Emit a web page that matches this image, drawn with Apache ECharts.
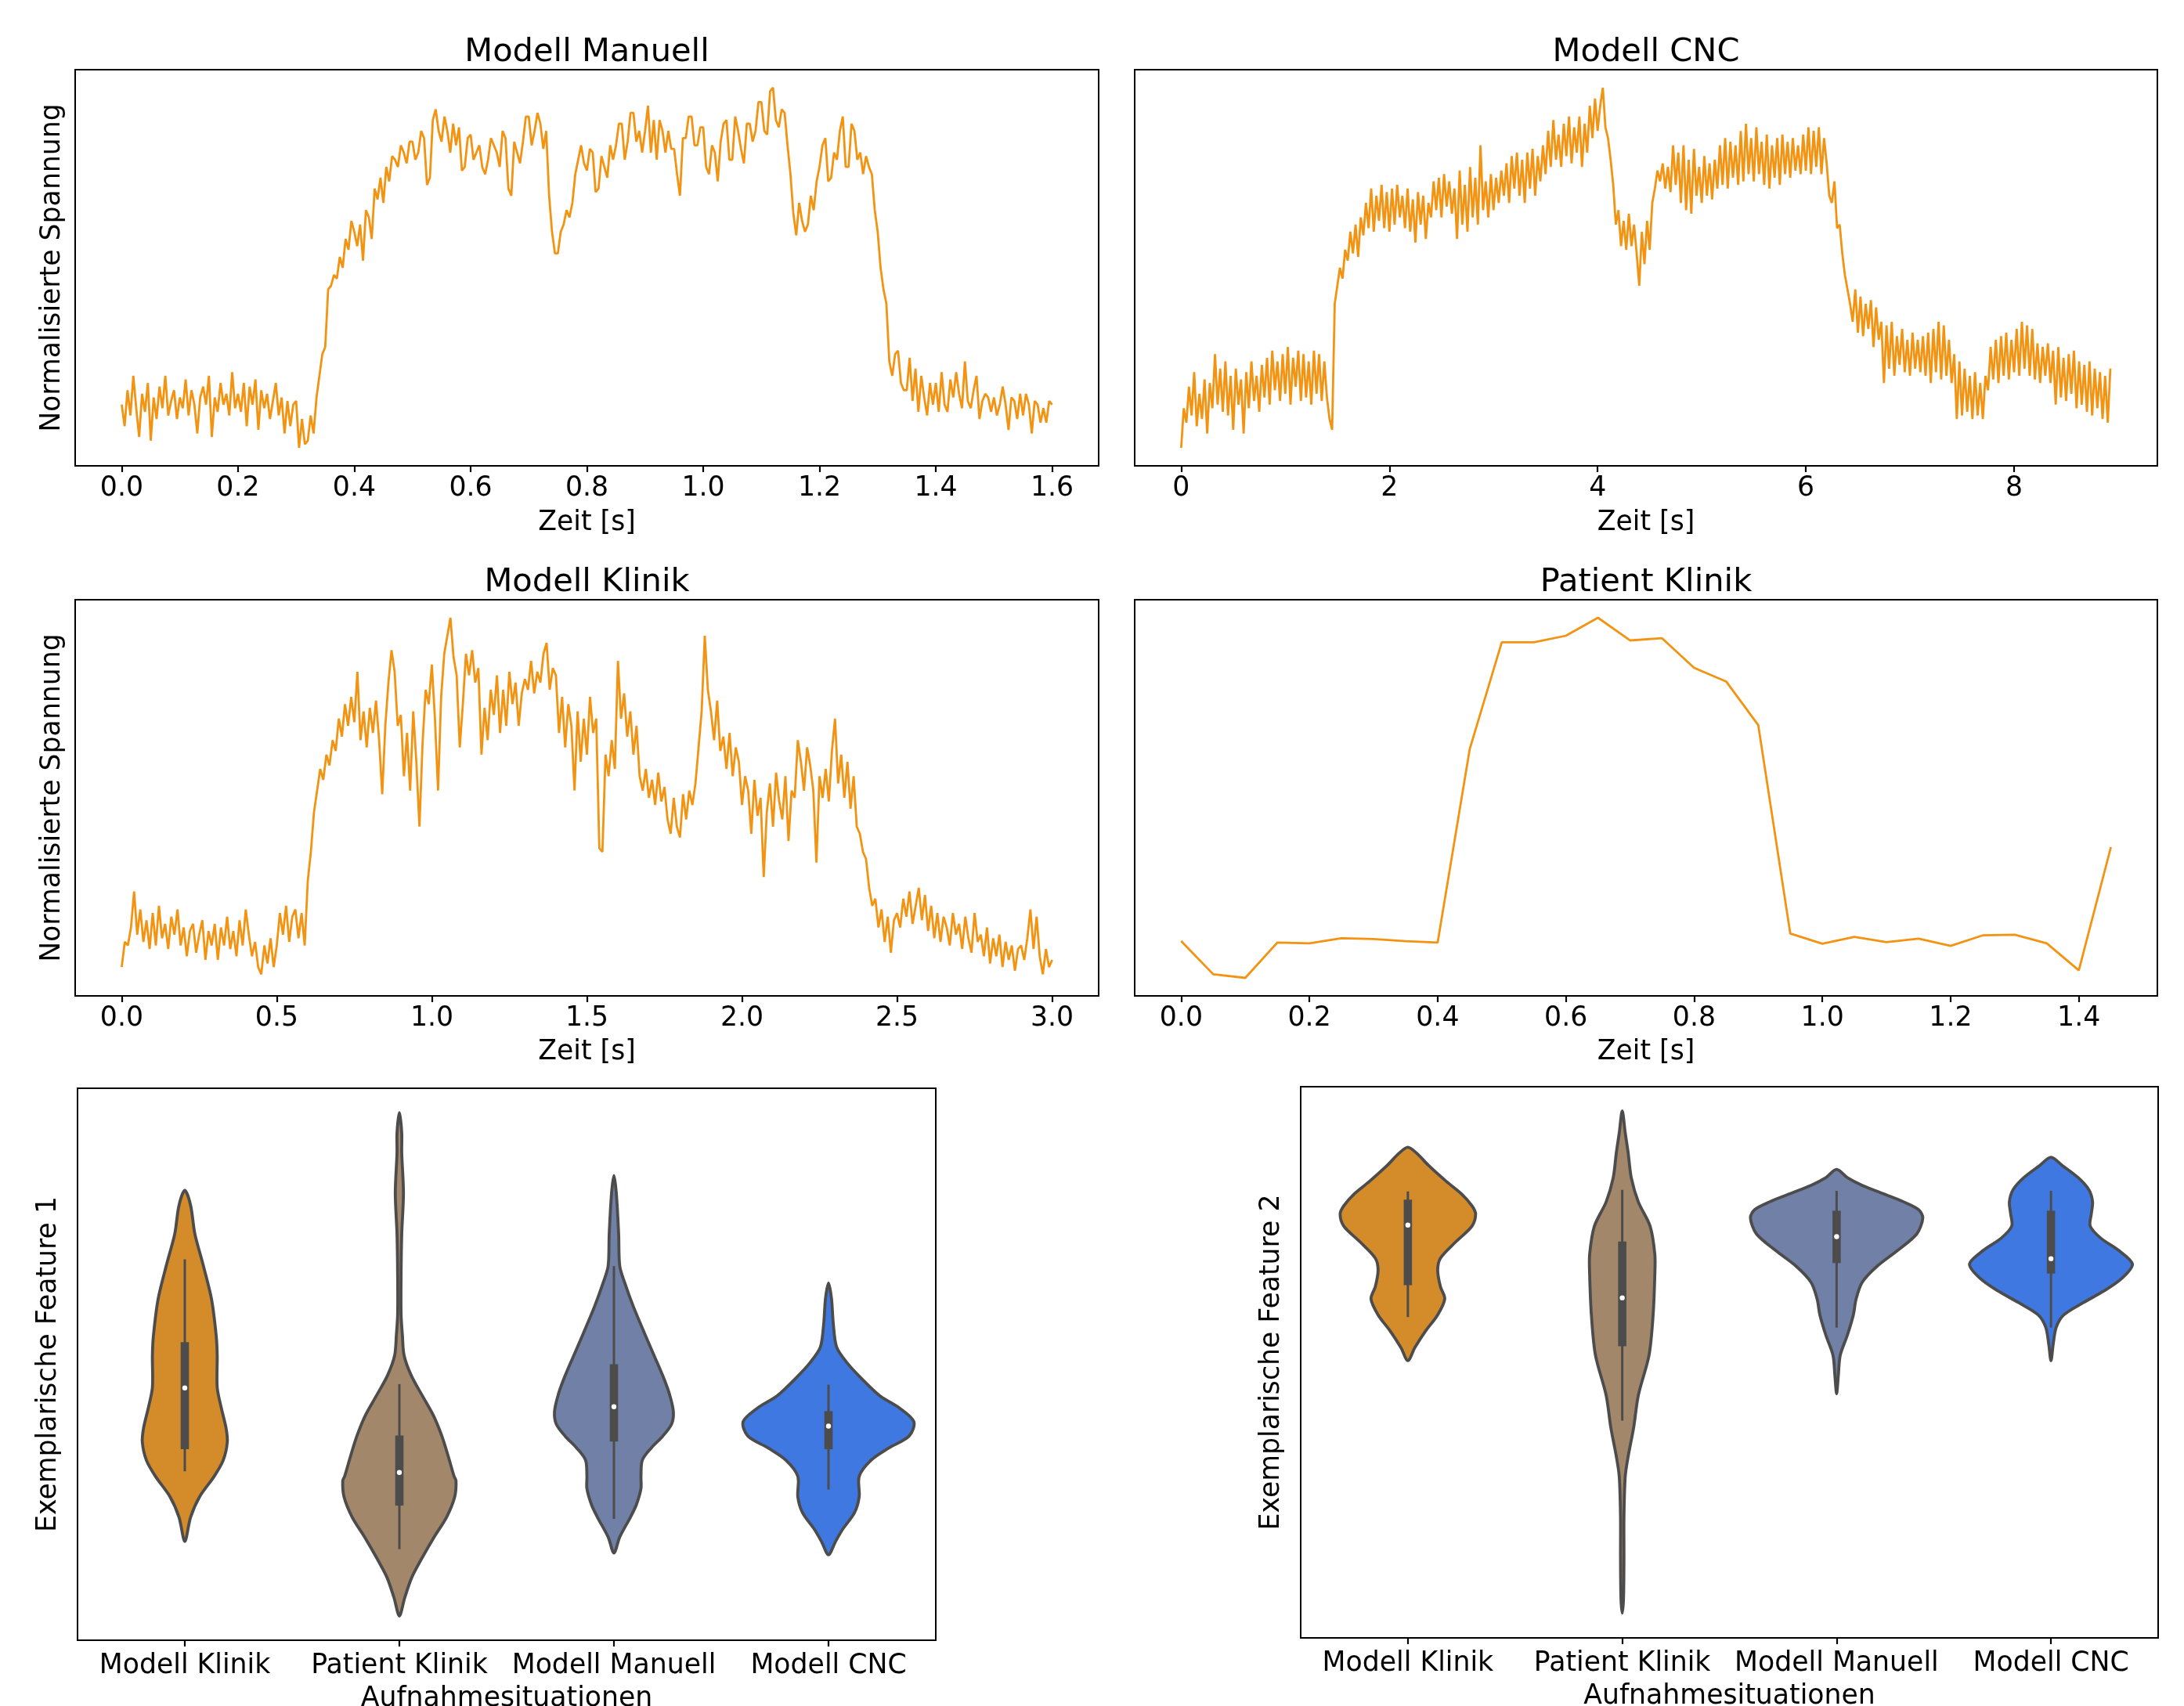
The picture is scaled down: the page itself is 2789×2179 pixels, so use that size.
<!DOCTYPE html>
<html><head><meta charset="utf-8">
<script src="https://cdn.jsdelivr.net/npm/echarts@6/dist/echarts.min.js"></script>
<style>html,body{margin:0;padding:0;background:#fff}#c{width:2789px;height:2179px}</style>
</head><body><div id="c"></div><script>
// ---------- DATA ----------
// Sampled traces (normalised voltage, 0..100), uniform sampling interval in seconds
const manuellDt = 0.005;
const manuellValues = [
12,6,16,9,20,11,3,15,10,18,
2,14,8,17,11,20,9,13,16,8,
14,11,19,9,16,12,4,14,17,12,
20,3,14,10,18,12,15,9,21,11,
15,10,18,6,17,12,19,5,16,11,
15,8,13,18,9,14,4,13,6,12,
13,0,8,1,2,9,4,14,20,26,
28,44,45,48,47,53,50,58,55,63,
60,56,62,52,66,64,58,72,69,75,
68,78,74,81,80,78,84,82,79,85,
85,80,82,88,86,73,75,91,94,88,
85,92,88,82,90,84,89,77,78,86,
87,80,82,84,78,76,80,86,84,82,
78,88,86,72,70,85,82,79,85,92,
92,84,88,93,90,83,88,70,60,54,
54,60,62,66,64,68,76,80,84,79,
77,83,82,71,72,81,78,75,84,80,
84,90,90,80,85,93,93,85,88,82,
88,95,82,91,80,91,88,82,88,83,
83,76,70,86,86,92,92,84,84,89,
89,78,76,84,82,74,85,90,91,80,
80,92,88,83,79,90,90,85,88,96,
96,88,87,99,100,91,89,94,93,84,
76,65,59,68,63,60,62,70,66,74,
78,84,86,74,75,82,80,88,92,78,
78,90,88,80,82,76,81,78,76,66,
60,50,44,40,24,20,26,27,18,16,
16,25,13,22,10,20,14,9,18,12,
18,10,21,12,10,19,14,21,15,11,
24,13,11,16,20,8,13,15,14,10,
14,9,12,17,12,5,14,13,8,15,
9,15,12,4,13,12,7,11,7,13,
12];
const manuellTicks = [0,0.2,0.4,0.6,0.8,1.0,1.2,1.4,1.6];

const cncDt = 0.025;
const cncValues = [
0,11,7,17,9,21,6,15,8,19,
4,18,11,26,12,22,10,24,9,20,
5,22,12,19,4,21,11,24,13,20,
10,23,14,25,12,27,16,24,13,26,
15,28,12,25,17,27,13,26,14,24,
12,27,15,26,13,24,14,8,5,40,
45,50,47,55,52,60,54,62,53,64,
59,68,61,72,60,70,63,73,61,71,
60,72,62,73,64,70,61,72,60,69,
57,71,62,70,58,68,64,74,66,75,
64,76,67,74,65,72,58,77,62,73,
60,78,64,75,62,84,66,74,64,76,
66,75,68,77,70,79,68,81,72,82,
70,80,68,82,72,83,70,81,74,84,
76,88,78,91,80,87,78,90,81,92,
79,89,82,92,78,90,82,95,86,97,
88,95,100,89,86,80,73,62,66,56,
63,55,65,56,62,54,45,60,51,63,
55,68,72,77,74,79,72,78,71,84,
73,82,68,84,66,80,65,83,70,78,
68,81,70,79,69,80,72,84,73,86,
72,85,75,84,73,88,74,90,76,86,
74,89,76,85,73,87,72,84,75,86,
73,87,76,85,75,86,77,84,76,87,
77,89,76,88,78,89,76,86,79,70,
68,74,61,62,54,48,44,40,35,44,
32,42,31,40,33,41,28,39,30,35,
18,34,22,35,20,31,23,33,21,30,
20,32,22,30,21,31,20,32,18,33,
21,35,19,34,20,30,18,26,8,24,
9,22,10,20,8,21,9,18,8,20,
16,28,19,30,18,31,20,32,19,30,
21,33,20,35,22,34,20,33,19,29,
18,28,20,29,18,27,12,28,14,25,
13,26,15,27,11,24,12,23,10,24,
9,22,11,21,8,20,7,22];
const cncTicks = [0,2,4,6,8];

const klinikDt = 0.01;
const klinikValues = [
3,10,9,14,24,12,19,10,16,8,
18,9,20,11,15,8,17,12,19,9,
14,6,13,15,7,12,16,5,13,9,
15,5,14,9,17,8,13,6,16,9,
19,12,6,10,3,1,9,4,11,3,
9,18,12,20,10,17,19,11,18,9,
27,35,46,52,58,55,62,59,66,63,
72,67,76,70,78,71,85,66,74,64,
75,68,77,66,51,70,82,91,85,70,
73,56,68,52,74,60,42,65,80,76,
87,72,52,78,90,95,100,89,84,64,
76,90,84,91,82,86,62,75,66,80,
73,84,68,80,70,85,76,82,70,79,
83,80,88,79,85,82,90,93,80,86,
84,68,78,64,76,70,52,74,60,72,
62,78,68,72,36,35,62,56,66,58,
88,72,79,67,74,62,70,56,52,58,
50,55,48,57,49,53,44,40,50,42,
39,51,44,52,48,54,64,74,95,80,
74,66,77,63,67,58,68,56,64,60,
48,56,52,40,55,45,50,28,46,54,
42,57,49,44,56,38,52,50,66,60,
52,64,59,52,32,56,50,58,49,63,
72,54,62,50,60,47,56,42,40,35,
33,25,20,22,14,19,10,17,7,16,
18,14,22,17,24,15,20,25,16,23,
13,20,11,18,10,17,14,9,18,12,
15,8,17,11,7,18,10,12,6,14,
4,11,6,12,3,10,5,9,2,8,
9,5,11,19,8,17,6,1,8,3,
5];
const klinikTicks = [0,0.5,1.0,1.5,2.0,2.5,3.0];

const patientDt = 0.05;
const patientValues = [10.2,1.0,0,9.8,9.6,11.0,10.8,10.2,9.8,63.5,93.2,93.2,95.0,100,93.7,94.3,86.1,82.3,70.2,12.3,9.5,11.4,9.9,10.9,8.9,11.8,12.0,9.6,2.1,36.3];
const patientTicks = [0,0.2,0.4,0.6,0.8,1.0,1.2,1.4];

// Violin plots: categories, density profiles [value, half-width (category units)], box stats
const violinCats = ['Modell Klinik','Patient Klinik','Modell Manuell','Modell CNC'];
const violinColors = ['#D48B2A','#A3876A','#7180A6','#3F78E0'];

const f1ModellKlinik = [[81.5,0],[78.8,0.027],[73.6,0.047],[68.5,0.082],[61.9,0.124],[55.3,0.146],[51.6,0.151],[45.8,0.151],[42.1,0.170],[38.5,0.192],[35.9,0.198],[32.6,0.179],[29.7,0.137],[26.0,0.069],[22.3,0.027],[17.9,0]];
const f1PatientKlinik = [[95.6,0],[91.9,0.011],[88.3,0.011],[81.0,0.019],[73.6,0.011],[66.3,0.008],[59.0,0.008],[55.3,0.014],[51.6,0.022],[48.0,0.055],[44.3,0.107],[40.7,0.159],[37.0,0.198],[33.3,0.228],[29.7,0.255],[28.9,0.264],[26.0,0.258],[22.3,0.22],[18.7,0.162],[15.0,0.107],[11.4,0.058],[7.7,0.025],[4.4,0]];
const f1ModellManuell = [[84.2,0],[81.0,0.011],[73.6,0.022],[67.8,0.027],[64.8,0.050],[60.4,0.091],[55.3,0.146],[51.6,0.187],[47.3,0.234],[44.3,0.261],[41.4,0.277],[39.2,0.269],[37.0,0.228],[34.8,0.173],[32.6,0.132],[29.7,0.126],[27.5,0.126],[24.5,0.104],[22.3,0.077],[18.7,0.027],[15.8,0]];
const f1ModellCNC = [[64.7,0],[61.9,0.014],[57.5,0.022],[53.1,0.038],[50.2,0.088],[47.3,0.157],[44.3,0.239],[42.1,0.330],[39.6,0.398],[37.0,0.376],[34.8,0.280],[32.6,0.198],[29.7,0.143],[26.0,0.143],[23.1,0.121],[20.1,0.066],[17.9,0.033],[15.5,0]];
const f1Stats = [[30.6,34.6,45.7,54.0,69.0],[16.5,24.4,30.4,37.1,46.4],[22.0,36.0,42.3,50.0,67.8],[27.3,34.6,38.8,41.5,46.3]];

const f2ModellKlinik = [[89.0,0],[87.9,0.042],[85.7,0.097],[82.8,0.180],[80.6,0.249],[78.4,0.299],[76.9,0.316],[74.7,0.299],[71.8,0.222],[68.9,0.152],[66.7,0.139],[63.7,0.152],[61.5,0.172],[58.6,0.139],[55.7,0.083],[52.7,0.033],[50.3,0]];
const f2PatientKlinik = [[95.6,0],[91.6,0.014],[87.9,0.028],[83.5,0.042],[79.1,0.075],[74.7,0.130],[69.6,0.152],[65.9,0.152],[58.6,0.144],[51.3,0.125],[44.0,0.075],[38.1,0.053],[33.0,0.028],[29.3,0.014],[22.0,0.008],[14.7,0.008],[7.3,0.006],[4.5,0]];
const f2ModellManuell = [[85.0,0],[83.5,0.050],[82.1,0.119],[80.6,0.216],[79.1,0.313],[77.7,0.382],[76.2,0.402],[73.3,0.374],[70.3,0.285],[67.4,0.188],[64.5,0.119],[61.5,0.091],[58.6,0.078],[54.9,0.050],[51.3,0.017],[47.6,0.008],[44.3,0]];
const f2ModellCNC = [[87.2,0],[85.7,0.053],[83.5,0.127],[81.3,0.177],[79.1,0.194],[76.9,0.188],[74.7,0.183],[72.5,0.233],[70.3,0.316],[67.8,0.380],[65.2,0.330],[63.0,0.25],[60.8,0.15],[58.6,0.06],[56.4,0.025],[53.5,0.011],[50.3,0]];
const f2Stats = [[58.2,64.0,74.9,79.5,81.0],[39.4,52.9,61.7,71.9,81.3],[56.3,68.0,72.8,77.5,81.1],[56.3,66.1,68.8,77.5,81.1]];

// ---------- CHART ----------
const FONT = 'DejaVu Sans';
const FS = 34.7;
const TXT = {fontFamily: FONT, fontSize: FS, color: '#000', fontWeight: 'normal'};
const LINE = '#F39312';
const DARK = '#4C4C4C';

function lineX(grid, min, max, ticks, fmt, nameGap) {
  return {gridIndex: grid, type: 'value', min: min, max: max,
    axisLine: {show: true, onZero: false, lineStyle: {color: '#000', width: 2}}, splitLine: {show: false},
    axisTick: {show: true, inside: false, customValues: ticks, length: 8, lineStyle: {color: '#000', width: 2.2}},
    axisLabel: Object.assign({customValues: ticks, formatter: fmt, margin: 11}, TXT),
    name: 'Zeit [s]', nameLocation: 'middle', nameGap: nameGap, nameTextStyle: Object.assign({}, TXT)};
}
function lineY(grid, name) {
  return {gridIndex: grid, type: 'value', min: -5, max: 105,
    axisLine: {show: false, onZero: false}, axisTick: {show: false}, axisLabel: {show: false}, splitLine: {show: false},
    name: name || '', nameLocation: 'middle', nameGap: 12, nameTextStyle: Object.assign({}, TXT)};
}
function catX(grid) {
  return {gridIndex: grid, type: 'category', data: violinCats, boundaryGap: true,
    axisLine: {show: true, onZero: false, lineStyle: {color: '#000', width: 2}}, splitLine: {show: false},
    axisTick: {show: true, alignWithLabel: true, length: 8, lineStyle: {color: '#000', width: 2.2}},
    axisLabel: Object.assign({margin: 15, interval: 0}, TXT),
    name: 'Aufnahmesituationen', nameLocation: 'middle', nameGap: 57, nameTextStyle: Object.assign({}, TXT)};
}
function violinY(grid, name) {
  return {gridIndex: grid, type: 'value', min: 0, max: 100,
    axisLine: {show: false, onZero: false}, axisTick: {show: false}, axisLabel: {show: false}, splitLine: {show: false},
    name: name, nameLocation: 'middle', nameGap: 20, nameTextStyle: Object.assign({}, TXT)};
}
const f1 = (v) => v.toFixed(1);
const f0 = (v) => String(Math.round(v));

function lineSeries(idx, values, dt) {
  return {type: 'line', xAxisIndex: idx, yAxisIndex: idx,
    data: values.map((v, i) => [i * dt, v]),
    showSymbol: false, symbol: 'none', silent: true, animation: false,
    lineStyle: {color: LINE, width: 2.8}};
}
function violinSeries(idx, profiles, stats) {
  return {type: 'custom', xAxisIndex: idx, yAxisIndex: idx, silent: true, animation: false,
    data: violinCats.map((c, i) => [i]),
    renderItem: function (params, api) {
      const i = api.value(0);
      const prof = profiles[i], st = stats[i];
      const bw = api.size([1, 0])[0];
      const cx = api.coord([i, 0])[0];
      const Y = (v) => api.coord([i, v])[1];
      const left = [], right = [];
      prof.forEach(function (p) {
        const y = Y(p[0]);
        if (p[1] === 0) { left.push([cx, y]); return; }
        left.push([cx - p[1] * bw, y]);
        right.push([cx + p[1] * bw, y]);
      });
      const pts = left.concat(right.reverse());
      return {type: 'group', children: [
        {type: 'polygon', shape: {points: pts, smooth: 0.3}, style: {fill: violinColors[i], stroke: DARK, lineWidth: 3.8}},
        {type: 'line', shape: {x1: cx, y1: Y(st[0]), x2: cx, y2: Y(st[4])}, style: {stroke: DARK, lineWidth: 3}},
        {type: 'rect', shape: {x: cx - 5.3, y: Y(st[3]), width: 10.6, height: Y(st[1]) - Y(st[3])}, style: {fill: DARK}},
        {type: 'circle', shape: {cx: cx, cy: Y(st[2]), r: 3.2}, style: {fill: '#fff'}}
      ]};
    }};
}

const gridBase = {show: true, borderColor: '#000', borderWidth: 2, backgroundColor: 'rgba(0,0,0,0)', containLabel: false, outerBoundsMode: 'none'};
const titleStyle = {fontFamily: FONT, fontSize: 41.6, fontWeight: 'normal', color: '#000'};
function title(text, x, y) {
  return {text: text, left: x, top: y, textAlign: 'center', textVerticalAlign: 'middle', padding: 0, textStyle: titleStyle};
}

const chart = echarts.init(document.getElementById('c'), null, {renderer: 'canvas'});
chart.setOption({
  animation: false,
  backgroundColor: '#fff',
  title: [
    title('Modell Manuell', 749.5, 67.5),
    title('Modell CNC', 2102, 67.5),
    title('Modell Klinik', 749.5, 744.5),
    title('Patient Klinik', 2102, 744.5)
  ],
  grid: [
    Object.assign({left: 96, top: 89, width: 1307, height: 506}, gridBase),
    Object.assign({left: 1449, top: 89, width: 1306, height: 506}, gridBase),
    Object.assign({left: 96, top: 766, width: 1307, height: 506}, gridBase),
    Object.assign({left: 1449, top: 766, width: 1306, height: 506}, gridBase),
    Object.assign({left: 99, top: 1390, width: 1096, height: 705}, gridBase),
    Object.assign({left: 1661, top: 1388, width: 1095, height: 704}, gridBase)
  ],
  xAxis: [
    lineX(0, -0.08, 1.68, manuellTicks, f1, 55),
    lineX(1, -0.4465, 9.3765, cncTicks, f0, 55),
    lineX(2, -0.15, 3.15, klinikTicks, f1, 54),
    lineX(3, -0.0725, 1.5225, patientTicks, f1, 54),
    catX(4),
    catX(5)
  ],
  yAxis: [
    lineY(0, 'Normalisierte Spannung'),
    lineY(1, ''),
    lineY(2, 'Normalisierte Spannung'),
    lineY(3, ''),
    violinY(4, 'Exemplarische Feature 1'),
    violinY(5, 'Exemplarische Feature 2')
  ],
  series: [
    lineSeries(0, manuellValues, manuellDt),
    lineSeries(1, cncValues, cncDt),
    lineSeries(2, klinikValues, klinikDt),
    lineSeries(3, patientValues, patientDt),
    violinSeries(4, [f1ModellKlinik, f1PatientKlinik, f1ModellManuell, f1ModellCNC], f1Stats),
    violinSeries(5, [f2ModellKlinik, f2PatientKlinik, f2ModellManuell, f2ModellCNC], f2Stats)
  ]
});
</script></body></html>
